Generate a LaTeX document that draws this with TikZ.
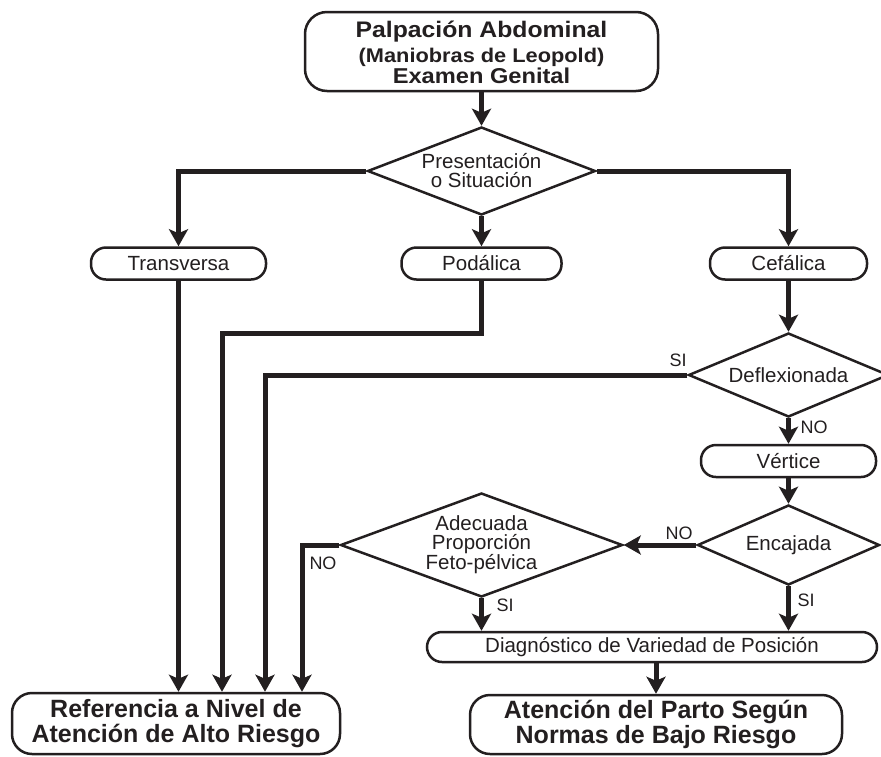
\documentclass[tikz,border=0pt]{standalone}
\usepackage{fontspec}
\setmainfont{Liberation Sans}
\newfontfamily\widesans[FakeStretch=1.1]{Liberation Sans}
\usetikzlibrary{arrows.meta,shapes.geometric,calc}
\definecolor{ink}{RGB}{35,31,32}
\begin{document}
\begin{tikzpicture}[x=1pt,y=-1pt,
  box/.style={draw=ink, line width=2.5pt, rounded corners=15pt, fill=white, inner sep=0pt,
    font=\fontsize{20.5}{20.5}\selectfont, text=ink, align=center},
  dec/.style={draw=ink, line width=2.5pt, shape=diamond, inner sep=0pt, fill=white,
    font=\fontsize{20.5}{19}\selectfont, text=ink, align=center},
  conn/.style={draw=ink, line width=5pt, -{Stealth[length=17pt,width=19pt,inset=4pt]}},
  lab/.style={font=\fontsize{18}{18}\selectfont, text=ink, inner sep=0pt},
  ttl/.style={text=ink, anchor=base, inner sep=0pt},
  big/.style={box, rounded corners=20pt, font=\bfseries\fontsize{25}{25}\selectfont}]
\useasboundingbox (0,0) rectangle (881,756);
\fill[white] (0,0) rectangle (881,756);

% nodes
\node[box, minimum width=353pt, minimum height=79pt, rounded corners=22pt] (top) at (481.5,51.5) {};
\node[ttl, font=\widesans\bfseries\fontsize{22.5}{22.5}\selectfont] (t1) at (481.5,37.5) {Palpación Abdominal};
\node[ttl, font=\widesans\bfseries\fontsize{19.8}{19.8}\selectfont] (t2) at (481.5,62) {(Maniobras de Leopold)};
\node[ttl, font=\widesans\bfseries\fontsize{21.5}{21.5}\selectfont] (t3) at (481.5,83.5) {Examen Genital};

\node[dec, minimum width=228pt, minimum height=88pt, aspect=2.59] (d1) at (481.5,171) {Presentación\\o Situación};

\node[box, minimum width=175pt, minimum height=32pt] (tr) at (178.5,263.5) {Transversa};
\node[box, minimum width=160pt, minimum height=32pt] (po) at (481.5,263.5) {Podálica};
\node[box, minimum width=157pt, minimum height=32pt] (ce) at (788.5,263.5) {Cefálica};

\node[dec, minimum width=200pt, minimum height=84pt, aspect=2.38] (de) at (788.5,375) {Deflexionada};
\node[box, minimum width=175pt, minimum height=32pt] (ve) at (788.5,461) {Vértice};
\node[dec, minimum width=182pt, minimum height=80pt, aspect=2.275] (en) at (788.5,545) {Encajada};
\node[dec, minimum width=282pt, minimum height=104pt, aspect=2.71, font=\fontsize{20.5}{18.5}\selectfont] (ad) at (481.5,545) {Adecuada\\Proporción\\Feto-pélvica};

\node[box, minimum width=450pt, minimum height=30pt] (dg) at (652,647) {Diagnóstico de Variedad de Posición};

\node[big, minimum width=328pt, minimum height=61pt] (ref) at (176,723.5) {Referencia a Nivel de\\Atención de Alto Riesgo};
\node[big, minimum width=372pt, minimum height=59pt] (bj) at (656,724.5) {Atención del Parto Según\\Normas de Bajo Riesgo};

% junction points
\coordinate (c2) at (222,333);
\coordinate (c3) at (265,375);
\coordinate (c4) at (302,545);

% connectors
\draw[conn] (top.south) -- (d1.north);
\draw[conn] (d1.west) -| (tr.north);
\draw[conn] (d1.east) -| (ce.north);
\draw[conn] (d1.south) -- (po.north);
\draw[conn] (tr.south) -- (tr.south |- ref.north);
\draw[conn] (po.south) |- (c2) -- (c2 |- ref.north);
\draw[conn] (ce.south) -- (de.north);
\draw[conn] (de.west) -- (c3) -- (c3 |- ref.north);
\draw[conn] (de.south) -- (ve.north);
\draw[conn] (ve.south) -- (en.north);
\draw[conn] (en.west) -- (ad.east);
\draw[conn] (en.south) -- (en.south |- dg.north);
\draw[conn] (ad.south) -- (ad.south |- dg.north);
\draw[conn] (ad.west) -- (c4) -- (c4 |- ref.north);
\draw[conn] (bj.north |- dg.south) -- (bj.north);

% labels
\node[lab] (l1) at (678,360) {SI};
\node[lab] (l2) at (814,427) {NO};
\node[lab] (l3) at (679,533) {NO};
\node[lab] (l4) at (806,600) {SI};
\node[lab] (l5) at (505,605) {SI};
\node[lab] (l6) at (323,563) {NO};
\end{tikzpicture}
\end{document}
